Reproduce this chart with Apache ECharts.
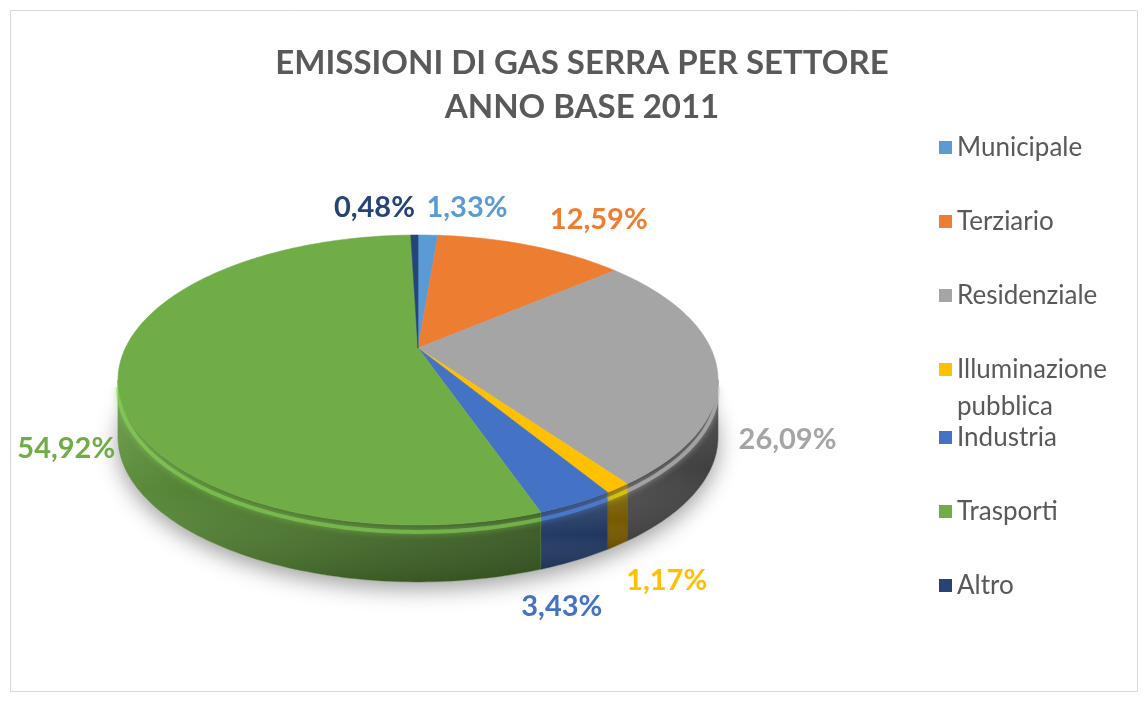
<!DOCTYPE html>
<html>
<head>
<meta charset="utf-8">
<script src="https://cdn.jsdelivr.net/npm/echarts@6/dist/echarts.min.js"></script>
<style>
html,body{margin:0;padding:0;background:#ffffff;}
#chart{width:1148px;height:702px;}
</style>
</head>
<body>
<div id="chart"></div>
<script>
// ---- data ----
const titleLines = ['EMISSIONI DI GAS SERRA PER SETTORE', 'ANNO BASE 2011'];
const categories = ['Municipale', 'Terziario', 'Residenziale', 'Illuminazione pubblica', 'Industria', 'Trasporti', 'Altro'];
const values = [1.33, 12.59, 26.09, 1.17, 3.43, 54.92, 0.48];

// ---- styles / layout ----
const colors = ['#5B9BD5', '#ED7D31', '#A5A5A5', '#FFC000', '#4472C4', '#70AD47', '#264478'];
const GEO = { cx: 418, cy: 348, a: 292.6, b: 137.9, k: 0.2206, h: 57 };
const labelOffsets = [[39, -27], [68, -26], [71, 74], [49, 92], [-14, 103], [-52, 74], [-40, -27]];
const FONT = 'Lato, "Open Sans", sans-serif';

const total = values.reduce((s, v) => s + v, 0);
const fmt = v => v.toFixed(2).replace('.', ',') + '%';

function rim(phi, dy) {
  const u = Math.sin(phi), v = -Math.cos(phi), d = 1 - GEO.k * v;
  return [GEO.cx + GEO.a * u / d, GEO.cy + GEO.b * v / d + (dy || 0)];
}
function arc(p0, p1, dy) {
  const n = Math.max(2, Math.ceil((p1 - p0) / (Math.PI / 180)));
  const pts = [];
  for (let i = 0; i <= n; i++) pts.push(rim(p0 + (p1 - p0) * i / n, dy));
  return pts;
}
function hexToRgb(c) {
  const n = parseInt(c.slice(1), 16);
  return [(n >> 16) & 255, (n >> 8) & 255, n & 255];
}
function shade(c, f) {
  const [r, g, b] = hexToRgb(c).map(x => Math.max(0, Math.min(255, Math.round(x * f))));
  return 'rgb(' + r + ',' + g + ',' + b + ')';
}
function lightFactor(phi) {
  return 0.6 - 0.24 * Math.sin(phi);
}
const F0 = Math.acos(-GEO.k), F1 = 2 * Math.PI - F0;

function renderItem(params, api) {
  const s = params.seriesIndex;
  const c = colors[s];
  let cum = 0;
  for (let i = 0; i < s; i++) cum += values[i];
  const val = api.value(0);
  const p0 = 2 * Math.PI * cum / total;
  const p1 = 2 * Math.PI * (cum + val) / total;
  const children = [];

  if (s === 0) {
    const base = arc(0, 2 * Math.PI, GEO.h);
    children.push({
      type: 'polygon', z2: 0,
      shape: { points: base },
      style: { fill: '#ffffff', shadowBlur: 22, shadowColor: 'rgba(0,0,0,0.38)', shadowOffsetY: 7 }
    });
  }

  const s0 = Math.max(p0, F0), s1 = Math.min(p1, F1);
  if (s1 > s0) {
    const top = arc(s0, s1, 0);
    const bot = arc(s0, s1, GEO.h);
    const pts = top.concat(bot.slice().reverse());
    const xs = top.map(p => p[0]);
    const minX = Math.min.apply(null, xs), maxX = Math.max.apply(null, xs);
    const stops = [];
    const n = 12;
    for (let i = 0; i <= n; i++) {
      const ph = s0 + (s1 - s0) * i / n;
      const x = rim(ph)[0];
      stops.push({ offset: maxX > minX ? (x - minX) / (maxX - minX) : i / n, color: shade(c, lightFactor(ph)) });
    }
    stops.sort((A, B) => A.offset - B.offset);
    children.push({
      type: 'polygon', z2: 1,
      shape: { points: pts },
      style: { fill: { type: 'linear', x: 0, y: 0, x2: 1, y2: 0, colorStops: stops }, stroke: shade(c, lightFactor((s0 + s1) / 2)), lineWidth: 0.5 }
    });
    children.push({
      type: 'polygon', z2: 2,
      shape: { points: pts },
      style: { fill: { type: 'linear', x: 0, y: 0, x2: 0, y2: 1, colorStops: [
        { offset: 0, color: 'rgba(255,255,255,0.16)' },
        { offset: 0.55, color: 'rgba(255,255,255,0)' },
        { offset: 1, color: 'rgba(0,0,0,0.16)' }] } }
    });
    children.push({
      type: 'polyline', z2: 3,
      shape: { points: arc(s0, s1, 7) },
      style: { stroke: shade(c, 1.25), lineWidth: 4, opacity: 0.55, fill: null, shadowBlur: 6, shadowColor: shade(c, 1.25) }
    });
  }

  const face = [[GEO.cx, GEO.cy]].concat(arc(p0, p1, 0));
  children.push({
    type: 'polygon', z2: 10,
    shape: { points: face },
    style: { fill: c, stroke: c, lineWidth: 0.6 }
  });

  const mid = (p0 + p1) / 2;
  const anchor = rim(mid);
  const off = labelOffsets[s];
  children.push({
    type: 'text', z2: 20,
    style: {
      text: fmt(val),
      x: anchor[0] + off[0], y: anchor[1] + off[1],
      fill: c, font: 'bold 29px ' + FONT,
      align: 'center', verticalAlign: 'middle'
    }
  });
  return { type: 'group', children: children };
}

const series = categories.map((name, i) => ({
  type: 'custom',
  name: name,
  coordinateSystem: 'none',
  itemStyle: { color: colors[i] },
  data: [[values[i]]],
  renderItem: renderItem,
  animation: false
}));

const legendText = { fontSize: 26, color: '#595959', fontFamily: FONT, lineHeight: 37 };
const legendBase = {
  orient: 'vertical', left: 934, itemWidth: 13, itemHeight: 13, itemGap: 37,
  icon: 'rect', selectedMode: false, textStyle: legendText
};
const chart = echarts.init(document.getElementById('chart'), null, { renderer: 'canvas' });
chart.setOption({
  backgroundColor: '#ffffff',
  animation: false,
  title: {
    text: titleLines.join('\n'),
    left: 577, top: 36, textAlign: 'center',
    textStyle: { fontSize: 33, fontWeight: 'bold', color: '#595959', fontFamily: FONT, lineHeight: 44 }
  },
  legend: [
    Object.assign({}, legendBase, { top: 124, data: [categories[0], categories[1], categories[2]] }),
    Object.assign({}, legendBase, {
      top: 309, data: [categories[3]],
      formatter: n => '\n' + n.replace(' ', '\n')
    }),
    Object.assign({}, legendBase, { top: 414, data: [categories[4], categories[5], categories[6]] })
  ],
  graphic: [{
    type: 'rect', silent: true,
    shape: { x: 10.5, y: 10.5, width: 1127, height: 681 },
    style: { fill: null, stroke: '#d9d9d9', lineWidth: 1 }
  }],
  series: series
});
</script>
</body>
</html>
